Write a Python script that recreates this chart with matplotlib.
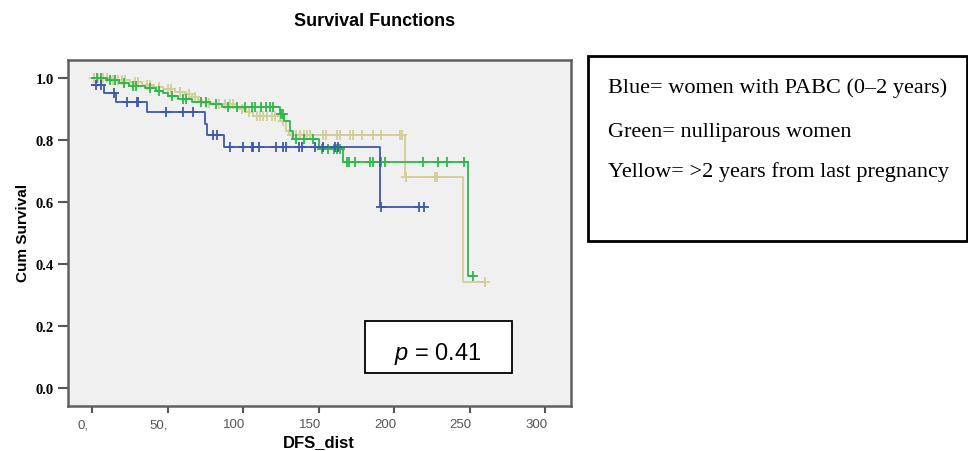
import numpy as np
import matplotlib.pyplot as plt
import matplotlib.transforms as mtransforms
from matplotlib.patches import Rectangle

plt.rcParams['mathtext.fontset'] = 'custom'
plt.rcParams['mathtext.rm'] = 'Liberation Sans'
plt.rcParams['mathtext.it'] = 'Liberation Sans:italic'

# Kaplan-Meier steps (event time, survival after event)
blue_t = [0, 8, 15.5, 36.5, 74.5, 76, 87.5, 190.5]
blue_s = [0.977, 0.952, 0.923, 0.890, 0.852, 0.816, 0.779, 0.585]
blue_cens = [2.5, 6, 14.5, 23, 29.5, 30.5, 49, 60, 67, 80, 82.5, 91, 99.5, 105.5,
             106.5, 110.5, 122, 126.5, 128.5, 137, 139, 147.5, 152.5, 160.5, 163,
             191, 216.5, 219.5]

green_t = [0, 10, 18, 24, 35, 42, 47, 50, 57, 66, 78, 86, 124, 127, 131, 133, 150, 166, 249]
green_s = [1.0, 0.992, 0.984, 0.975, 0.968, 0.959, 0.951, 0.943, 0.932, 0.924, 0.916,
           0.906, 0.884, 0.862, 0.83, 0.803, 0.771, 0.728, 0.363]
green_cens = [3, 6, 12, 15, 21, 27, 29, 38, 44, 53, 60, 62, 72, 75, 82, 90, 96, 101,
              106, 108, 112, 115, 118, 120, 125, 126, 135, 140, 146, 152, 156, 160,
              162, 164, 168.5, 170, 174, 184, 186, 190.5, 191.5, 194, 219, 229, 235,
              246, 252]

yellow_t = [0, 12, 25, 33, 40, 47, 55, 62, 66, 70, 73, 80, 96, 102, 106.5, 124, 128.5,
            130.5, 207, 245.5]
yellow_s = [1.0, 0.993, 0.986, 0.978, 0.970, 0.963, 0.955, 0.948, 0.939, 0.93, 0.921,
            0.916, 0.9, 0.889, 0.878, 0.862, 0.83, 0.816, 0.68, 0.342]
yellow_cens = [1, 4, 7, 10, 14, 17, 20, 22, 28, 30, 36, 38, 44, 50, 52, 58, 64, 68, 75,
               77, 84, 88, 91, 93, 99, 104, 109, 111, 113, 116, 119, 121, 126, 132, 135,
               137.5, 140, 142, 144, 153, 155, 162, 164, 170.5, 172.5, 178.5, 186,
               191.5, 204, 205, 208, 227, 228.5, 260]

x_ticks = [0, 50, 100, 150, 200, 250, 300]
x_tick_labels = ['0,', '50,', '100', '150', '200', '250', '300']
y_ticks = [0.0, 0.2, 0.4, 0.6, 0.8, 1.0]
y_tick_labels = ['0.0', '0.2', '0.4', '0.6', '0.8', '1.0']

legend_lines = ['Blue= women with PABC (0\u20132 years)',
                'Green= nulliparous women',
                'Yellow= >2 years from last pregnancy']
p_text = r'$p$ = 0.41'


def km_line(ax, t, s, cens, color):
    t = np.array(t, dtype=float)
    s = np.array(s, dtype=float)
    cens = np.array(cens, dtype=float)
    end = max(cens.max(), t.max())
    xs = np.append(t, end)
    ys = np.append(s, s[-1])
    ax.step(xs, ys, where='post', color=color, lw=1.3)
    idx = np.searchsorted(t, cens, side='right') - 1
    ax.plot(cens, s[idx], ls='none', marker='+', ms=6.5, mew=1.3, color=color)


W, H = 968, 452
fig = plt.figure(figsize=(W / 100, H / 100), dpi=100)
ax = fig.add_axes([67.5 / W, 1 - 406.7 / H, (570.5 - 67.5) / W, (406.7 - 61) / H])
ax.set_facecolor('#f0f0f0')

km_line(ax, yellow_t, yellow_s, yellow_cens, '#d3ce97')
km_line(ax, green_t, green_s, green_cens, '#2eb848')
km_line(ax, blue_t, blue_s, blue_cens, '#3e58ac')

ax.set_xlim(-16.4, 316.7)
ax.set_ylim(-0.056, 1.058)
ax.set_xticks(x_ticks)
ax.set_xticklabels(x_tick_labels, color='#555555', fontsize=9.5, family='Liberation Sans')
ax.set_yticks(y_ticks)
ax.set_yticklabels(y_tick_labels, fontsize=10.5, family='Liberation Serif', fontweight='bold')
ax.tick_params(axis='x', length=5, width=1.5, color='#555555', pad=4)
ax.tick_params(axis='y', length=7, width=1.5, color='#555555', pad=3)
for sp in ax.spines.values():
    sp.set_color('#606060')
    sp.set_linewidth(1.8)

# SPSS puts the x labels a little left of their ticks
shift = mtransforms.ScaledTranslation(-9 / 100, 0, fig.dpi_scale_trans)
for lab in ax.get_xticklabels():
    lab.set_transform(lab.get_transform() + shift)

fig.text(374.6 / W, 1 - 21 / H, 'Survival Functions', ha='center', va='center',
         fontsize=13, fontweight='bold', family='Liberation Sans')
fig.text(23 / W, 1 - 233 / H, 'Cum Survival', ha='center', va='center', rotation=90,
         fontsize=11, fontweight='bold', family='Liberation Sans')
fig.text(318.5 / W, 1 - 447 / H, 'DFS_dist', ha='center', va='baseline',
         fontsize=12, fontweight='bold', family='Liberation Sans')

# p-value box
fig.add_artist(Rectangle((365 / W, 1 - 374 / H), (512 - 365) / W, (374 - 322) / H,
                         transform=fig.transFigure, fill=True, fc='white',
                         ec='black', lw=1.3))
fig.text(438 / W, 1 - 360 / H, p_text, ha='center', va='baseline',
         fontsize=17, family='Liberation Sans')

# colour key box
fig.add_artist(Rectangle((588.3 / W, 1 - 241.7 / H), (966.7 - 588.3) / W, (241.7 - 57.3) / H,
                         transform=fig.transFigure, fill=False, ec='black', lw=2))
for line, base in zip(legend_lines, [93.3, 136.7, 176.7]):
    fig.text(608 / W, 1 - base / H, line, ha='left', va='baseline',
             fontsize=16, family='Liberation Serif')

fig.savefig('out.png', dpi=100)
plt.close(fig)
